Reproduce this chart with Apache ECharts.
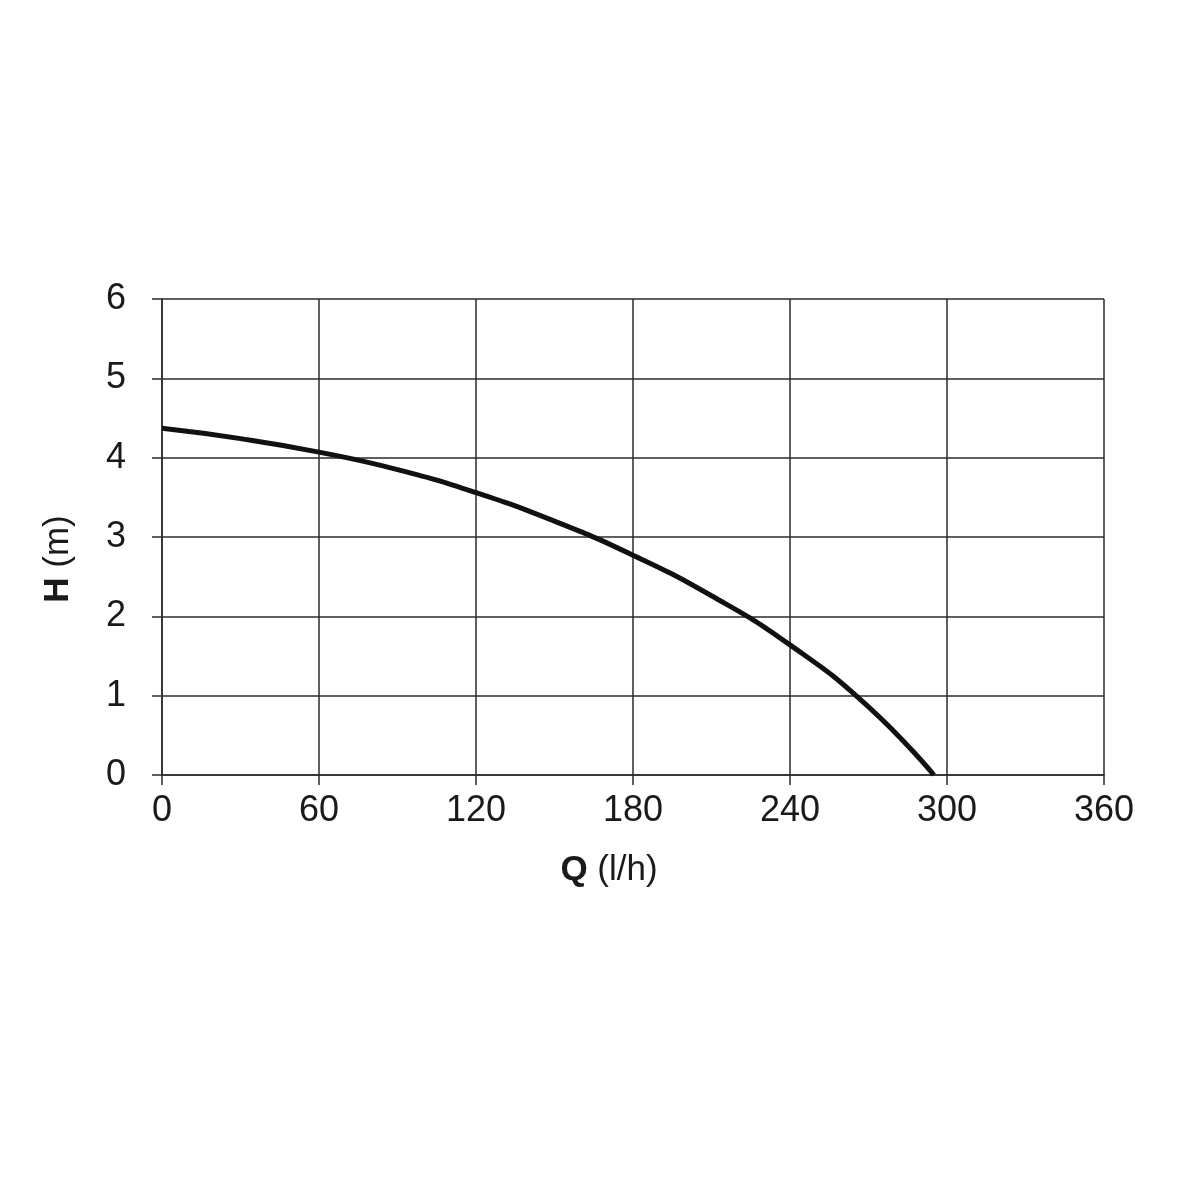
<!DOCTYPE html>
<html>
<head>
<meta charset="utf-8">
<script src="https://cdn.jsdelivr.net/npm/echarts@6/dist/echarts.min.js"></script>
<style>html,body{margin:0;padding:0;background:#fff}#c{width:1200px;height:1200px}</style>
</head>
<body>
<div id="c"></div>
<script>
const flowQ = [0, 30, 60, 90, 120, 150, 180, 210, 240, 270, 295];
const headH = [4.37, 4.24, 4.07, 3.85, 3.56, 3.2, 2.77, 2.26, 1.64, 0.86, 0.0];
const xAxisName = 'Q';
const xAxisUnit = ' (l/h)';
const yAxisName = 'H';
const yAxisUnit = ' (m)';

const chart = echarts.init(document.getElementById('c'));
const font = '"Liberation Sans", Arial, Helvetica, sans-serif';
const gridColor = '#2b2b2b';
const textColor = '#1a1a1a';
chart.setOption({
  animation: false,
  backgroundColor: '#fff',
  grid: { left: 162, right: 96, top: 299, bottom: 425 },
  xAxis: {
    type: 'value', min: 0, max: 360, interval: 60,
    name: '{b|' + xAxisName + '}' + xAxisUnit,
    nameLocation: 'middle', nameGap: 78,
    nameTextStyle: { fontFamily: font, fontSize: 35, color: textColor, padding: [0, 48, 0, 0],
      rich: { b: { fontFamily: font, fontSize: 35, fontWeight: 'bold', color: textColor } } },
    axisLine: { show: true, lineStyle: { color: gridColor, width: 1.5 } },
    axisTick: { show: true, length: 10, lineStyle: { color: gridColor, width: 1.5 } },
    axisLabel: { margin: 18, fontFamily: font, fontSize: 36, color: textColor },
    splitLine: { show: true, lineStyle: { color: gridColor, width: 1.5 } }
  },
  yAxis: {
    type: 'value', min: 0, max: 6, interval: 1,
    name: '{b|' + yAxisName + '}' + yAxisUnit,
    nameLocation: 'middle', nameGap: 86, nameRotate: 90,
    nameTextStyle: { fontFamily: font, fontSize: 35, color: textColor, padding: [0, 44, 0, 0],
      rich: { b: { fontFamily: font, fontSize: 35, fontWeight: 'bold', color: textColor } } },
    axisLine: { show: true, lineStyle: { color: gridColor, width: 1.5 } },
    axisTick: { show: true, length: 10, lineStyle: { color: gridColor, width: 1.5 } },
    axisLabel: { margin: 36, fontFamily: font, fontSize: 36, color: textColor },
    splitLine: { show: true, lineStyle: { color: gridColor, width: 1.5 } }
  },
  series: [{
    type: 'line',
    data: flowQ.map((q, i) => [q, headH[i]]),
    smooth: 0.5,
    showSymbol: false,
    lineStyle: { color: '#111', width: 5 },
    z: 5
  }]
});
</script>
</body>
</html>
